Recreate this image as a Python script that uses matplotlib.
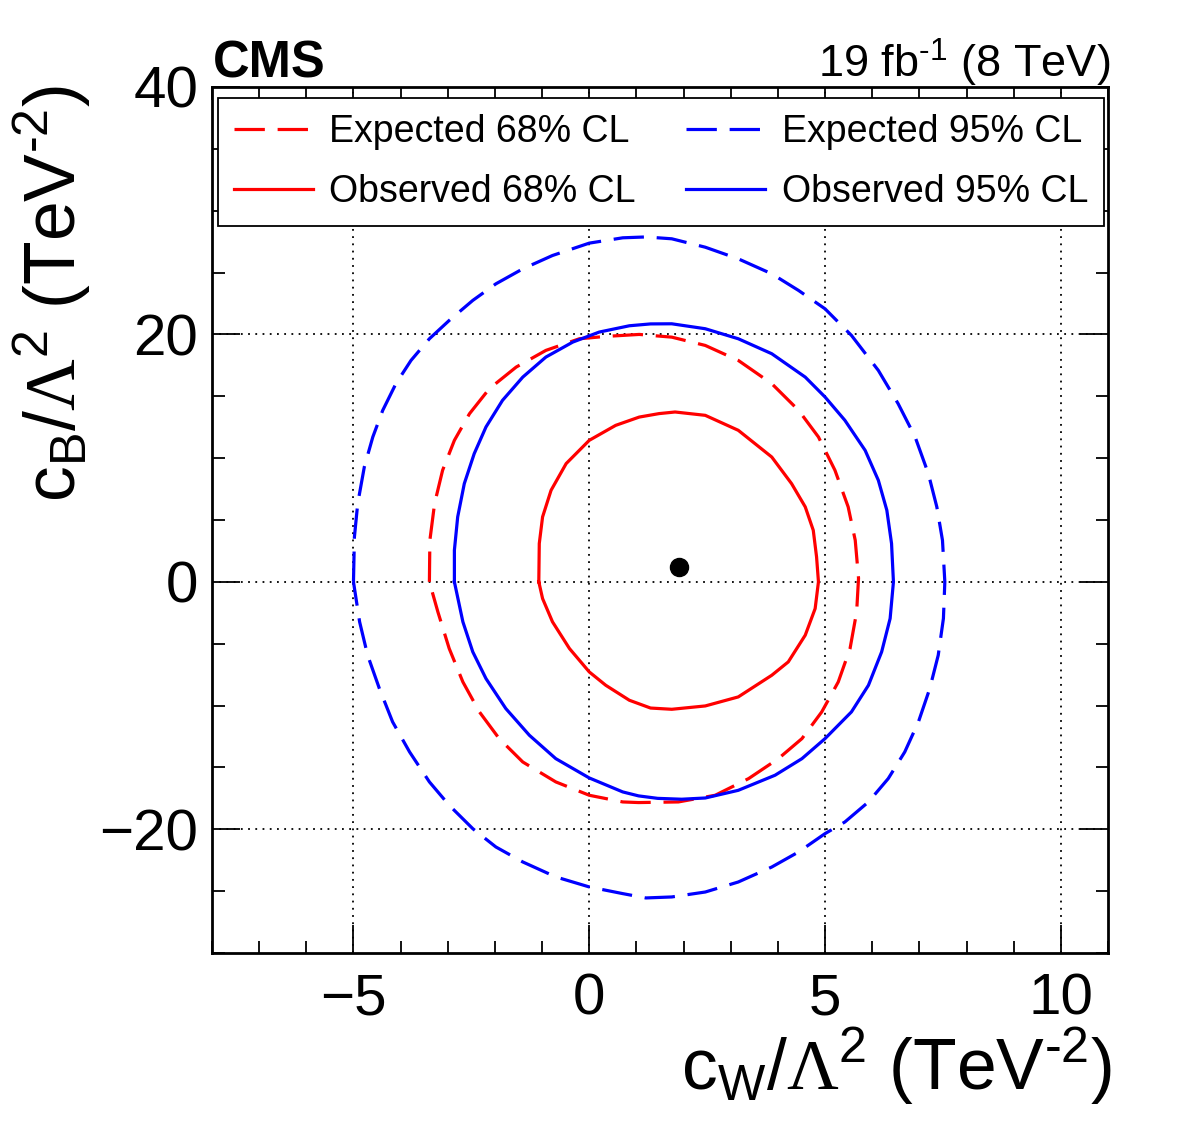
import matplotlib
matplotlib.use("Agg")
import matplotlib.pyplot as plt
from matplotlib.ticker import MultipleLocator

plt.rcParams['font.family'] = ['Liberation Sans', 'DejaVu Sans']
plt.rcParams['mathtext.fontset'] = 'custom'
plt.rcParams['mathtext.rm'] = 'Liberation Sans'
plt.rcParams['mathtext.it'] = 'Liberation Sans'
plt.rcParams['mathtext.sf'] = 'Liberation Serif'

# ---- data (cW, cB in TeV^-2) ----
exp95_x = [-5.0, -4.98, -4.91, -4.77, -4.59, -4.38, -4.10, -3.78, -3.39, -2.97, -2.47, -1.98, -1.41,
           -0.78, 0.0, 0.71, 1.2, 1.75, 2.46, 3.16, 3.87, 4.44, 5.0, 5.56, 6.13, 6.55, 6.91, 7.19,
           7.37, 7.49, 7.54, 7.51, 7.40, 7.22, 6.98, 6.69, 6.34, 5.92, 5.42, 5.0, 4.44, 3.87, 3.16,
           2.46, 1.75, 1.2, 0.71, 0.0, -0.71, -1.41, -1.98, -2.47, -2.97, -3.39, -3.81, -4.17,
           -4.45, -4.70, -4.87]
exp95_y = [0.0, 3.63, 6.33, 9.29, 11.71, 13.86, 16.02, 17.9, 19.65, 21.13, 22.75, 24.09, 25.3,
           26.38, 27.38, 27.81, 27.88, 27.73, 27.05, 26.11, 24.9, 23.55, 22.07, 19.92, 17.09, 14.4,
           11.71, 8.75, 6.06, 3.36, 0.0, -2.96, -5.93, -8.63, -11.32, -13.75, -15.9, -17.79, -19.41,
           -20.35, -21.83, -23.05, -24.26, -25.07, -25.47, -25.55, -25.2, -24.66, -23.85, -22.64,
           -21.43, -19.95, -18.06, -16.17, -13.75, -11.32, -8.63, -5.93, -3.23]

obs95_x = [-2.86, -2.86, -2.79, -2.65, -2.44, -2.19, -1.84, -1.41, -0.92, -0.35, 0.21, 0.85, 1.3,
           1.75, 2.46, 3.16, 3.87, 4.58, 5.0, 5.42, 5.85, 6.13, 6.31, 6.41, 6.45, 6.38, 6.2, 5.92,
           5.56, 5.0, 4.51, 3.94, 3.16, 2.46, 1.96, 1.45, 1.045, 0.71, 0.0, -0.71, -1.27, -1.77,
           -2.19, -2.47, -2.68]
obs95_y = [0.0, 2.56, 5.25, 7.94, 10.36, 12.52, 14.67, 16.55, 18.17, 19.38, 20.19, 20.7, 20.85,
           20.86, 20.46, 19.65, 18.44, 16.55, 14.94, 13.06, 10.63, 8.21, 5.79, 3.1, 0.0, -2.96, -5.66,
           -8.36, -10.51, -12.67, -14.29, -15.63, -16.85, -17.47, -17.57, -17.5, -17.3, -16.98,
           -15.85, -14.29, -12.4, -10.24, -7.82, -5.66, -3.23]

exp68_x = [-3.39, -3.38, -3.28, -3.11, -2.86, -2.54, -2.12, -1.55, -0.92, -0.21, 0.35, 1.06, 1.75,
           2.46, 3.16, 3.87, 4.44, 4.86, 5.21, 5.49, 5.64, 5.71, 5.67, 5.53, 5.28, 4.93, 4.51, 4.01,
           3.38, 2.67, 1.89, 1.045, 0.71, 0.0, -0.71, -1.41, -1.91, -2.33, -2.68, -2.97, -3.21]
exp68_y = [0.0, 3.36, 6.33, 9.02, 11.44, 13.59, 15.61, 17.36, 18.71, 19.65, 19.84, 20.0, 19.78,
           19.11, 17.9, 16.02, 13.86, 11.71, 9.02, 6.06, 3.36, 0.3, -2.43, -5.39, -8.09, -10.51,
           -12.67, -14.29, -15.9, -17.25, -17.79, -17.84, -17.79, -17.25, -16.17, -14.56, -12.67,
           -10.51, -8.09, -5.39, -2.43]

obs68_x = [-1.07, -1.06, -0.99, -0.81, -0.49, 0.0, 0.56, 1.06, 1.48, 1.82, 2.46, 3.16, 3.87, 4.29,
           4.58, 4.75, 4.82, 4.86, 4.79, 4.58, 4.22, 3.87, 3.16, 2.46, 1.75, 1.3, 0.85, 0.35, 0.0,
           -0.42, -0.78, -0.99]
obs68_y = [0.0, 3.1, 5.25, 7.4, 9.56, 11.44, 12.65, 13.32, 13.6, 13.73, 13.46, 12.25, 10.09, 7.94,
           6.06, 4.17, 2.02, 0.0, -2.16, -4.31, -6.47, -7.55, -9.3, -10.03, -10.3, -10.2, -9.57,
           -8.36, -7.28, -5.39, -3.23, -1.35]

best_x = [1.91]
best_y = [1.18]

labels = ["Expected 68% CL", "Observed 68% CL", "Expected 95% CL", "Observed 95% CL"]


def closed(xs, ys):
    return list(xs) + [xs[0]], list(ys) + [ys[0]]


W, H = 1182, 1123
fig = plt.figure(figsize=(W / 100, H / 100), dpi=100)
ax = fig.add_axes([212 / W, (H - 953) / H, 896 / W, 866 / H])
ax.set_xlim(-8, 11)
ax.set_ylim(-30, 40)

lw = 2.3
dash = (0, (9.5, 4))
red = '#ff0000'
blue = '#0000ff'

x, y = closed(exp68_x, exp68_y)
l1, = ax.plot(x, y, color=red, lw=lw, ls=dash)
x, y = closed(exp95_x, exp95_y)
l2, = ax.plot(x, y, color=blue, lw=lw, ls=dash)
x, y = closed(obs68_x, obs68_y)
l3, = ax.plot(x, y, color=red, lw=lw, ls='-')
x, y = closed(obs95_x, obs95_y)
l4, = ax.plot(x, y, color=blue, lw=lw, ls='-')
ax.plot(best_x, best_y, 'o', color='black', ms=13, zorder=5)

# ticks and grid
ax.xaxis.set_major_locator(MultipleLocator(5))
ax.xaxis.set_minor_locator(MultipleLocator(1))
ax.yaxis.set_major_locator(MultipleLocator(20))
ax.yaxis.set_minor_locator(MultipleLocator(5))
ax.grid(True, which='major', color='black', ls=(0, (1, 3)), lw=1.3)
ax.set_axisbelow(True)

ax.tick_params(which='both', direction='in', top=True, right=True, width=1.3, colors='black')
ax.tick_params(which='major', length=20, labelsize=42)
ax.tick_params(which='minor', length=9)
ax.tick_params(axis='x', which='major', pad=14)
ax.tick_params(axis='y', which='major', pad=10)
for s in ax.spines.values():
    s.set_linewidth(2)

# legend: rows = (Expected 68, Expected 95), (Observed 68, Observed 95)
leg = ax.legend([l1, l3, l2, l4], labels, ncol=2, fontsize=27, loc='upper left',
                bbox_to_anchor=(0.0067, 0.843, 0.989, 0.144), mode='expand',
                frameon=True, fancybox=False, edgecolor='black', framealpha=1,
                handlelength=2.1, handletextpad=0.45, borderpad=0.42, labelspacing=0.64,
                borderaxespad=0.0)
leg.get_frame().set_linewidth(1.3)

fig.text(213 / W, 1 - 78 / H, 'CMS', fontsize=36.5, fontweight='bold', ha='left', va='baseline')
fig.text(1110 / W, 1 - 78 / H, r'19 fb$^{\text{-1}}$ (8 TeV)', fontsize=32.5, ha='right', va='baseline')

fig.text(1112 / W, 1 - 1090 / H, r'c$_{\mathrm{W}}$/$\mathsf{\Lambda}^{2}$ (TeV$^{\text{-2}}$)',
         fontsize=51.5, ha='right', va='baseline')
fig.text(52 / W, 1 - 85 / H, r'c$_{\mathrm{B}}$/$\mathsf{\Lambda}^{2}$ (TeV$^{\text{-2}}$)',
         fontsize=51.5, ha='center', va='top', rotation=90)

fig.savefig('out.png', dpi=100)
